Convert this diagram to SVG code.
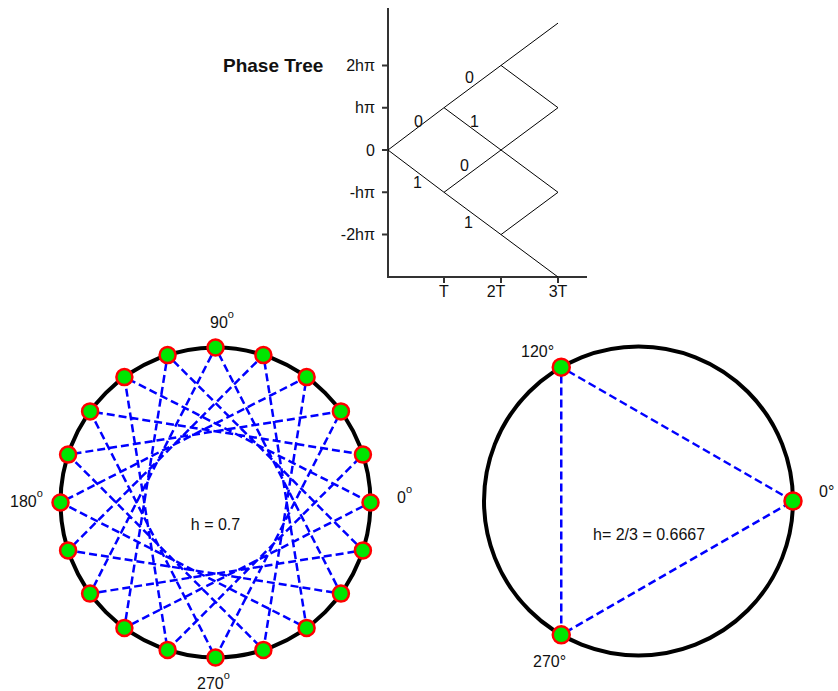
<svg xmlns="http://www.w3.org/2000/svg" width="838" height="691" viewBox="0 0 838 691">
<style>
text{font-family:"Liberation Sans",Arial,sans-serif;font-size:16px;fill:#111}
.ax{stroke:#333;stroke-width:2;fill:none}
.tr{stroke:#000;stroke-width:1;fill:none}
.ring{stroke:#000;stroke-width:4;fill:none}
.dash{stroke:#0000ff;stroke-width:2.5;fill:none;stroke-dasharray:8 4}
.dot{fill:#00e600;stroke:#ff0000;stroke-width:2.5}
.sup{font-size:11px}
</style>
<rect width="838" height="691" fill="#fff"/>
<g id="phase-tree">
<text x="223" y="72" style="font-weight:bold;font-size:19px">Phase Tree</text>
<path class="ax" d="M388 8V277H587"/>
<path class="ax" d="M382 65.4H388M382 107.7H388M382 150H388M382 192.3H388M382 234.6H388M444 277V283M501 277V283M558 277V283"/>
<g text-anchor="end">
<text x="375" y="71">2hπ</text>
<text x="375" y="113">hπ</text>
<text x="375" y="156">0</text>
<text x="375" y="198">-hπ</text>
<text x="375" y="240">-2hπ</text>
</g>
<g text-anchor="middle">
<text x="444" y="297">T</text>
<text x="496" y="297">2T</text>
<text x="558" y="297">3T</text>
</g>
<path class="tr" d="M388 150L444 107.7L501 65.4L558 23.1M388 150L444 192.3L501 234.6L558 277M444 107.7L501 150L558 192.3M444 192.3L501 150L558 107.7M501 65.4L558 107.7M501 234.6L558 192.3"/>
<text x="465" y="83">0</text>
<text x="414" y="127">0</text>
<text x="470" y="127">1</text>
<text x="460" y="171">0</text>
<text x="413" y="188">1</text>
<text x="464" y="228">1</text>
</g>
<g id="circle-h07">
<circle class="ring" cx="215.5" cy="502.5" r="155"/>
<path class="dash" d="M370.5 502.5L124.39 377.1L167.6 649.91L362.91 454.6L90.1 411.39L215.5 657.5L340.9 411.39L68.09 454.6L263.4 649.91L306.61 377.1L60.5 502.5L306.61 627.9L263.4 355.09L68.09 550.4L340.9 593.61L215.5 347.5L90.1 593.61L362.91 550.4L167.6 355.09L124.39 627.9Z"/>
<g>
<circle class="dot" cx="370.5" cy="502.5" r="8"/>
<circle class="dot" cx="362.91" cy="454.6" r="8"/>
<circle class="dot" cx="340.9" cy="411.39" r="8"/>
<circle class="dot" cx="306.61" cy="377.1" r="8"/>
<circle class="dot" cx="263.4" cy="355.09" r="8"/>
<circle class="dot" cx="215.5" cy="347.5" r="8"/>
<circle class="dot" cx="167.6" cy="355.09" r="8"/>
<circle class="dot" cx="124.39" cy="377.1" r="8"/>
<circle class="dot" cx="90.1" cy="411.39" r="8"/>
<circle class="dot" cx="68.09" cy="454.6" r="8"/>
<circle class="dot" cx="60.5" cy="502.5" r="8"/>
<circle class="dot" cx="68.09" cy="550.4" r="8"/>
<circle class="dot" cx="90.1" cy="593.61" r="8"/>
<circle class="dot" cx="124.39" cy="627.9" r="8"/>
<circle class="dot" cx="167.6" cy="649.91" r="8"/>
<circle class="dot" cx="215.5" cy="657.5" r="8"/>
<circle class="dot" cx="263.4" cy="649.91" r="8"/>
<circle class="dot" cx="306.61" cy="627.9" r="8"/>
<circle class="dot" cx="340.9" cy="593.61" r="8"/>
<circle class="dot" cx="362.91" cy="550.4" r="8"/>
</g>
<text x="210" y="328">90<tspan class="sup" dy="-10">o</tspan></text>
<text x="10" y="507">180<tspan class="sup" dy="-10">o</tspan></text>
<text x="397" y="503">0<tspan class="sup" dy="-10">o</tspan></text>
<text x="197" y="689">270<tspan class="sup" dy="-10">o</tspan></text>
<text x="215.5" y="530" text-anchor="middle">h = 0.7</text>
</g>
<g id="circle-h23">
<circle class="ring" cx="638.5" cy="501" r="154.5"/>
<path class="dash" d="M793 501L561.25 367.2L561.25 634.8Z"/>
<circle class="dot" cx="793" cy="501" r="8.5"/>
<circle class="dot" cx="561.25" cy="367.2" r="8.5"/>
<circle class="dot" cx="561.25" cy="634.8" r="8.5"/>
<text x="521" y="357">120°</text>
<text x="819" y="497">0°</text>
<text x="533" y="667">270°</text>
<text x="593" y="540">h= 2/3 = 0.6667</text>
</g>
</svg>
